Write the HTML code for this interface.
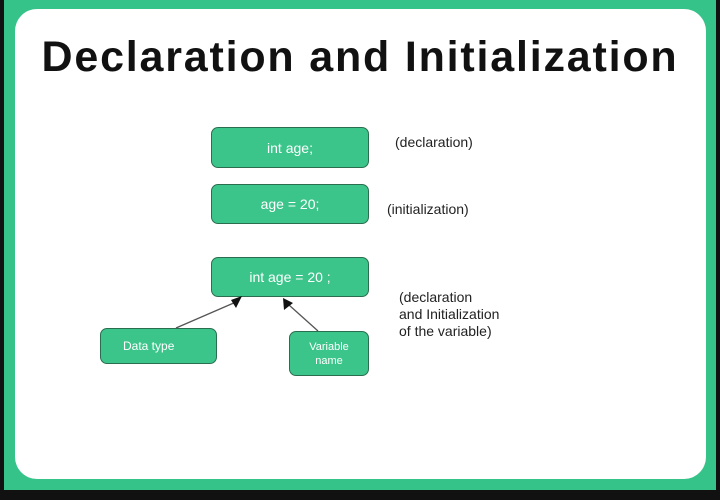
<!DOCTYPE html>
<html><head><style>
body{margin:0;width:720px;height:500px;background:#111;overflow:hidden;font-family:"Liberation Sans",sans-serif;}
.frame{position:absolute;left:4px;top:0;width:712px;height:490px;background:#36c389;}
.panel{position:absolute;left:15px;top:9px;width:691px;height:470px;background:#fff;border-radius:22px;}
.t{position:absolute;left:0;width:720px;top:33px;text-align:center;font-weight:bold;font-size:43px;letter-spacing:1.8px;color:#111;}
.b{position:absolute;background:#3cc58a;border:1.5px solid #2b6e4f;border-radius:7px;color:#fff;display:flex;align-items:center;justify-content:center;text-align:center;box-sizing:border-box;}
.l{position:absolute;font-size:14px;color:#222;line-height:17px;}
</style></head><body>
<div class="frame"></div><div class="panel"></div>
<div class="t">Declaration and Initialization</div>
<div class="b" style="left:211px;top:127px;width:158px;height:41px;font-size:14px">int age;</div>
<div class="b" style="left:211px;top:184px;width:158px;height:40px;font-size:14px">age = 20;</div>
<div class="b" style="left:211px;top:257px;width:158px;height:40px;font-size:14px">int age = 20 ;</div>
<div class="b" style="left:100px;top:328px;width:117px;height:36px;font-size:12px;justify-content:flex-start;padding-left:22px">Data type</div>
<div class="b" style="left:289px;top:331px;width:80px;height:45px;font-size:11px;line-height:14px">Variable<br>name</div>
<div class="l" style="left:395px;top:134px">(declaration)</div>
<div class="l" style="left:387px;top:201px">(initialization)</div>
<div class="l" style="left:399px;top:289px">(declaration<br>and Initialization<br>of the variable)</div>
<svg style="position:absolute;left:0;top:0" width="720" height="500">
<line x1="176" y1="328" x2="236" y2="302" stroke="#555" stroke-width="1.3"/>
<polygon points="242,296 231,300 236,308" fill="#111"/>
<line x1="318" y1="331" x2="289" y2="305" stroke="#555" stroke-width="1.3"/>
<polygon points="283,298 284,310 293,303" fill="#111"/>
</svg>
</body></html>
